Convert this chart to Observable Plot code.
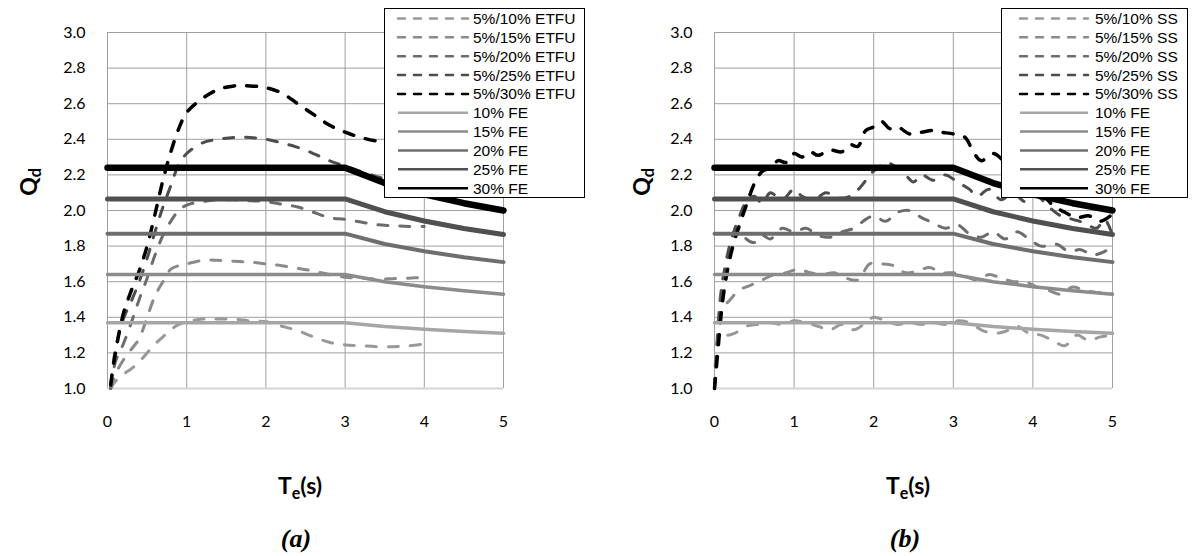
<!DOCTYPE html>
<html><head><meta charset="utf-8">
<script src="https://cdn.jsdelivr.net/npm/d3@7"></script>
<script src="https://cdn.jsdelivr.net/npm/@observablehq/plot@0.6"></script>
<style>
html,body{margin:0;padding:0;background:#fff}
body{width:1195px;height:556px;overflow:hidden;position:relative;font-family:Lato,"Open Sans",sans-serif}
.panel{position:absolute;top:0}
.xlab{position:absolute;font:bold 23px Lato,sans-serif;transform:translateX(-50%);white-space:nowrap;line-height:1}
.ylab{position:absolute;font:bold 23px Lato,sans-serif;transform:translate(-50%,-50%) rotate(-90deg);white-space:nowrap;line-height:1}
.cap{position:absolute;font:italic bold 26px "Liberation Serif","DejaVu Serif",serif;transform:translateX(-50%);line-height:1}
sub{font-size:0.7em;vertical-align:-0.3em}
.legend{position:absolute;top:0}
</style></head><body>
<script>
// ---------- data ----------
const xTicks = [0, 1, 2, 3, 4, 5];
const yTicks = [1.0, 1.2, 1.4, 1.6, 1.8, 2.0, 2.2, 2.4, 2.6, 2.8, 3.0];

// code-based (FE) spectra
const T_FE = [0, 3, 3.5, 4, 4.5, 5];
const FE10 = [1.37, 1.37, 1.348, 1.333, 1.32, 1.31];
const FE15 = [1.64, 1.64, 1.60, 1.572, 1.549, 1.53];
const FE20 = [1.87, 1.87, 1.812, 1.771, 1.737, 1.71];
const FE25 = [2.065, 2.065, 1.993, 1.941, 1.899, 1.865];
const FE30 = [2.24, 2.24, 2.154, 2.091, 2.041, 2.0];

// (a) ETFU spectra
const T_ETFU = [0.04, 0.1, 0.2, 0.3, 0.4, 0.5, 0.6, 0.7, 0.8, 0.9, 1.0, 1.2, 1.4, 1.6, 1.8, 2.0, 2.2, 2.4, 2.6, 2.8, 3.0, 3.2, 3.4, 3.6, 3.8, 4.0];
const ETFU10 = [1.0, 1.04, 1.08, 1.11, 1.15, 1.2, 1.25, 1.29, 1.33, 1.36, 1.375, 1.39, 1.39, 1.39, 1.38, 1.375, 1.35, 1.325, 1.29, 1.26, 1.245, 1.24, 1.235, 1.235, 1.24, 1.25];
const ETFU15 = [1.0, 1.08, 1.16, 1.22, 1.28, 1.4, 1.52, 1.6, 1.67, 1.69, 1.70, 1.72, 1.72, 1.715, 1.71, 1.70, 1.69, 1.675, 1.66, 1.64, 1.625, 1.62, 1.615, 1.617, 1.62, 1.625];
const ETFU20 = [1.0, 1.15, 1.25, 1.37, 1.5, 1.62, 1.75, 1.86, 1.94, 2.0, 2.03, 2.05, 2.06, 2.06, 2.055, 2.05, 2.035, 2.02, 1.99, 1.96, 1.95, 1.935, 1.92, 1.915, 1.91, 1.91];
const ETFU25 = [1.02, 1.22, 1.39, 1.49, 1.6, 1.73, 1.88, 2.02, 2.14, 2.26, 2.32, 2.38, 2.40, 2.41, 2.41, 2.40, 2.38, 2.355, 2.32, 2.28, 2.25, 2.22, 2.19, 2.17, 2.15, 2.13];
const ETFU30 = [1.02, 1.2, 1.42, 1.55, 1.66, 1.8, 1.98, 2.17, 2.33, 2.46, 2.55, 2.63, 2.68, 2.70, 2.70, 2.69, 2.66, 2.60, 2.54, 2.48, 2.44, 2.41, 2.39, 2.38, 2.37, 2.37];

// (b) SS spectra
const T_SS10 = [0, 0.03, 0.08, 0.15, 0.25, 0.4, 0.55, 0.7, 0.85, 1.0, 1.15, 1.3, 1.45, 1.6, 1.75, 1.9, 2.0, 2.15, 2.3, 2.45, 2.6, 2.75, 2.9, 3.05, 3.2, 3.35, 3.5, 3.65, 3.8, 3.95, 4.1, 4.25, 4.4, 4.55, 4.7, 4.85, 5.0];
const SS10 = [1.0, 1.25, 1.32, 1.30, 1.31, 1.35, 1.36, 1.37, 1.36, 1.38, 1.37, 1.35, 1.33, 1.36, 1.33, 1.37, 1.40, 1.38, 1.36, 1.37, 1.36, 1.37, 1.36, 1.38, 1.37, 1.33, 1.31, 1.32, 1.35, 1.31, 1.30, 1.27, 1.24, 1.30, 1.27, 1.29, 1.30];
const T_SS15 = [0, 0.03, 0.06, 0.1, 0.2, 0.3, 0.45, 0.6, 0.75, 0.9, 1.05, 1.2, 1.35, 1.5, 1.65, 1.8, 1.95, 2.1, 2.25, 2.4, 2.55, 2.7, 2.85, 3.0, 3.15, 3.3, 3.45, 3.6, 3.75, 3.9, 4.05, 4.2, 4.35, 4.5, 4.65, 4.8, 5.0];
const SS15 = [1.0, 1.2, 1.35, 1.45, 1.50, 1.55, 1.58, 1.61, 1.64, 1.65, 1.67, 1.65, 1.64, 1.65, 1.62, 1.61, 1.70, 1.70, 1.69, 1.65, 1.66, 1.68, 1.65, 1.65, 1.63, 1.61, 1.64, 1.62, 1.60, 1.60, 1.57, 1.55, 1.53, 1.57, 1.55, 1.54, 1.53];
const T_SS20 = [0, 0.03, 0.07, 0.12, 0.2, 0.3, 0.4, 0.5, 0.6, 0.7, 0.85, 1.0, 1.15, 1.3, 1.45, 1.6, 1.75, 1.9, 2.0, 2.15, 2.3, 2.45, 2.6, 2.75, 2.9, 3.05, 3.2, 3.35, 3.5, 3.65, 3.8, 3.95, 4.1, 4.3, 4.45, 4.6, 4.75, 4.9, 5.0];
const SS20 = [1.0, 1.25, 1.5, 1.65, 1.78, 1.9, 1.84, 1.82, 1.86, 1.84, 1.90, 1.88, 1.90, 1.86, 1.85, 1.88, 1.90, 1.95, 1.97, 1.94, 1.99, 2.0, 1.96, 1.93, 1.90, 1.92, 1.87, 1.85, 1.88, 1.84, 1.88, 1.84, 1.80, 1.81, 1.77, 1.78, 1.75, 1.77, 1.80];
const T_SS25 = [0, 0.03, 0.07, 0.12, 0.2, 0.3, 0.4, 0.5, 0.6, 0.7, 0.85, 1.0, 1.1, 1.25, 1.4, 1.55, 1.7, 1.85, 1.95, 2.05, 2.15, 2.3, 2.4, 2.5, 2.6, 2.75, 2.9, 3.05, 3.2, 3.3, 3.45, 3.6, 3.75, 3.9, 4.05, 4.2, 4.35, 4.5, 4.65, 4.8, 4.9, 5.0];
const SS25 = [1.0, 1.2, 1.45, 1.65, 1.82, 1.95, 2.05, 2.08, 2.04, 2.10, 2.06, 2.12, 2.08, 2.06, 2.10, 2.07, 2.08, 2.14, 2.20, 2.24, 2.27, 2.24, 2.20, 2.16, 2.20, 2.17, 2.20, 2.16, 2.12, 2.08, 2.12, 2.06, 2.10, 2.05, 2.08, 2.02, 1.97, 1.95, 1.93, 1.90, 1.95, 1.86];
const T_SS30 = [0, 0.02, 0.05, 0.08, 0.12, 0.17, 0.22, 0.3, 0.4, 0.5, 0.6, 0.7, 0.8, 0.9, 1.0, 1.1, 1.2, 1.3, 1.45, 1.6, 1.7, 1.8, 1.9, 2.0, 2.1, 2.2, 2.3, 2.45, 2.6, 2.75, 2.85, 3.0, 3.15, 3.25, 3.35, 3.5, 3.65, 3.8, 3.95, 4.1, 4.25, 4.4, 4.55, 4.7, 4.85, 5.0];
const SS30 = [1.0, 1.1, 1.25, 1.4, 1.55, 1.68, 1.78, 1.9, 2.03, 2.15, 2.22, 2.24, 2.28, 2.27, 2.32, 2.30, 2.33, 2.31, 2.34, 2.33, 2.37, 2.36, 2.45, 2.47, 2.50, 2.46, 2.47, 2.43, 2.44, 2.45, 2.44, 2.43, 2.41, 2.33, 2.28, 2.32, 2.27, 2.20, 2.14, 2.10, 2.03, 1.99, 1.96, 1.97, 1.94, 1.98];

// ---------- styles ----------
const feStyle = [
  {name: "10% FE", T: T_FE, v: FE10, color: "#a6a6a6", w: 3.5},
  {name: "15% FE", T: T_FE, v: FE15, color: "#8c8c8c", w: 3.5},
  {name: "20% FE", T: T_FE, v: FE20, color: "#6e6e6e", w: 4},
  {name: "25% FE", T: T_FE, v: FE25, color: "#505050", w: 5},
  {name: "30% FE", T: T_FE, v: FE30, color: "#000000", w: 6.5}
];
const dashColors = ["#999999", "#8a8a8a", "#6c6c6c", "#4d4d4d", "#000000"];
const etfu = [
  {name: "5%/10% ETFU", T: T_ETFU, v: ETFU10},
  {name: "5%/15% ETFU", T: T_ETFU, v: ETFU15},
  {name: "5%/20% ETFU", T: T_ETFU, v: ETFU20},
  {name: "5%/25% ETFU", T: T_ETFU, v: ETFU25},
  {name: "5%/30% ETFU", T: T_ETFU, v: ETFU30}
].map((s, i) => ({...s, color: dashColors[i], w: i === 4 ? 3.5 : 3}));
const ss = [
  {name: "5%/10% SS", T: T_SS10, v: SS10},
  {name: "5%/15% SS", T: T_SS15, v: SS15},
  {name: "5%/20% SS", T: T_SS20, v: SS20},
  {name: "5%/25% SS", T: T_SS25, v: SS25},
  {name: "5%/30% SS", T: T_SS30, v: SS30}
].map((s, i) => ({...s, color: dashColors[i], w: i === 4 ? 3.5 : 3}));

const rows = s => s.T.map((t, i) => ({t, q: s.v[i]}));

function panel(dashed, left, width, mL, mR, curve) {
  const marks = [
    Plot.gridX(xTicks, {stroke: "#a0a0a0", strokeOpacity: 1, strokeWidth: 1}),
    Plot.gridY(yTicks.slice(1), {stroke: "#a0a0a0", strokeOpacity: 1, strokeWidth: 1}),
    Plot.ruleY([1], {stroke: "#d4d4d4", strokeWidth: 2})
  ];
  for (const s of dashed) {
    marks.push(Plot.line(rows(s), {x: "t", y: "q", stroke: s.color, strokeWidth: s.w,
      strokeDasharray: "10,12", strokeLinecap: "round", curve}));
  }
  for (const s of feStyle) {
    marks.push(Plot.line(rows(s), {x: "t", y: "q", stroke: s.color, strokeWidth: s.w, curve: "linear"}));
  }
  marks.push(Plot.axisX(xTicks, {tickSize: 0, tickPadding: 27, fontSize: 16, label: null, fill: "#000"}));
  marks.push(Plot.axisY(yTicks, {tickSize: 0, tickPadding: 22, fontSize: 16, label: null, tickFormat: d3.format(".1f"), fill: "#000"}));
  const svg = Plot.plot({
    width, height: 440,
    marginTop: 32, marginBottom: 52, marginLeft: mL, marginRight: mR,
    x: {domain: [0, 5]},
    y: {domain: [1, 3]},
    style: {fontFamily: "Lato, sans-serif", color: "#000", background: "transparent", overflow: "visible"},
    marks
  });
  svg.classList.add("panel");
  svg.style.left = left + "px";
  document.body.appendChild(svg);
}

panel(etfu, 0, 597, 107, 94, "catmull-rom");
panel(ss, 597, 598, 117, 83, "catmull-rom");

function legend(series, left, top, w, h, lineX0, lineX1, textX) {
  const svg = d3.create("svg").attr("class", "legend").attr("width", w + 2).attr("height", h + 2)
    .style("left", left + "px").style("top", top + "px");
  svg.append("rect").attr("x", 0.5).attr("y", 0.5).attr("width", w).attr("height", h)
    .attr("fill", "#fff").attr("stroke", "#000").attr("stroke-width", 1);
  const step = 18.85, y0 = 10.5;
  series.forEach((s, i) => {
    const y = y0 + i * step;
    svg.append("line").attr("x1", lineX0).attr("x2", lineX1).attr("y1", y).attr("y2", y)
      .attr("stroke", s.color).attr("stroke-width", 2.5)
      .attr("stroke-dasharray", s.dash ? "7,9" : null).attr("stroke-linecap", s.dash ? "round" : "butt");
    svg.append("text").attr("x", textX).attr("y", y).attr("dy", "0.36em")
      .attr("font-family", "'Liberation Sans', Arial, sans-serif").attr("font-size", 15.5)
      .attr("fill", "#000").text(s.name);
  });
  document.body.appendChild(svg.node());
}
const legA = [...etfu.map(s => ({...s, dash: true})), ...feStyle];
const legB = [...ss.map(s => ({...s, dash: true})), ...feStyle];
legend(legA, 384, 8, 200, 189, 14, 84, 89);
legend(legB, 1001, 8, 186, 189, 19, 87, 94);

function html(cls, x, y, content) {
  const d = document.createElement("div");
  d.className = cls; d.style.left = x + "px"; d.style.top = y + "px"; d.innerHTML = content;
  document.body.appendChild(d);
}
html("xlab", 300, 474, "T<sub>e</sub>(s)");
html("xlab", 908, 474, "T<sub>e</sub>(s)");
html("ylab", 30, 182, "Q<sub>d</sub>");
html("ylab", 643, 182, "Q<sub>d</sub>");
html("cap", 296, 526, "(a)");
html("cap", 905, 526, "(b)");
</script>
</body></html>
